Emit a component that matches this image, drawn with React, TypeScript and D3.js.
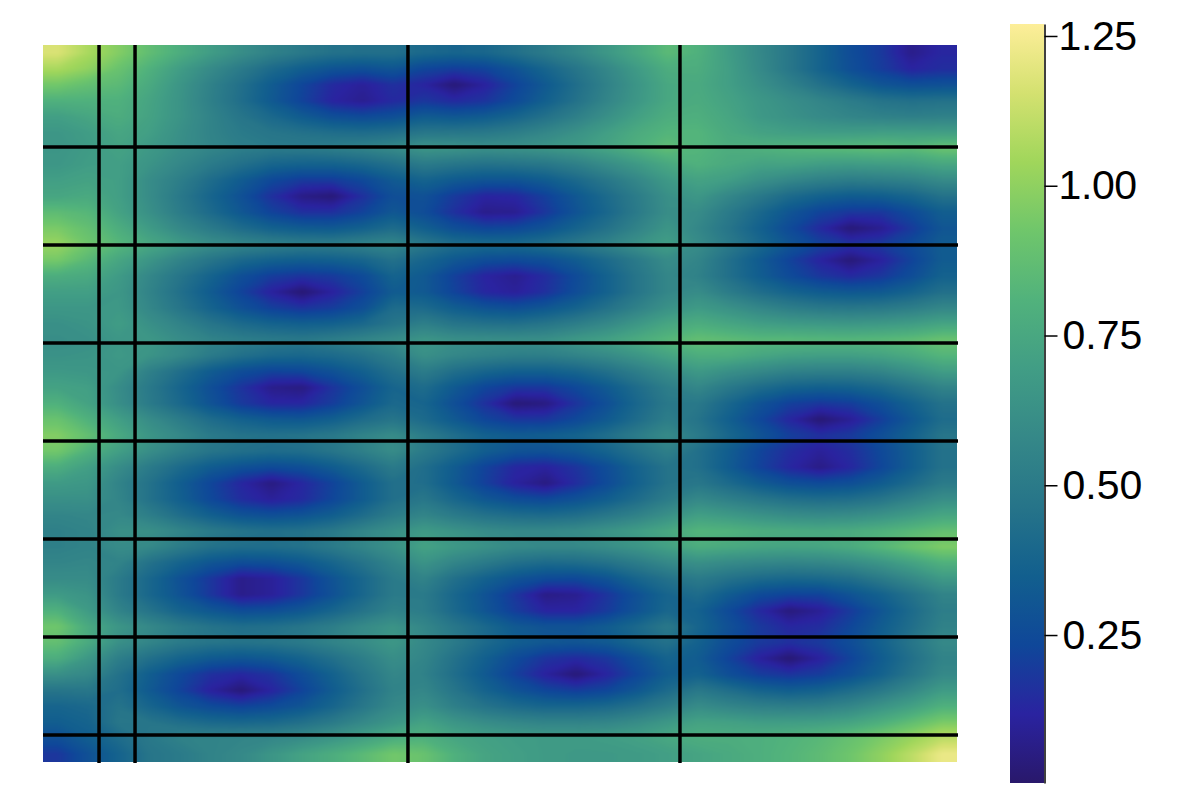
import React, { useEffect, useRef } from "react";
import * as d3 from "d3";

// surface, in hundredths, one row per band from the top
const surfaceRows: number[][] = [
  [117,106,97,87,78,69,61,54,49,45,44,44,40,38,39,44,50,57,66,75,85,80,69,58,48,37,26,19,7,13],
  [106,100,90,80,69,59,50,41,34,29,27,30,23,20,22,29,38,47,57,68,78,78,70,59,48,37,27,20,12,15],
  [93,88,85,76,65,54,44,33,23,14,10,16,12,3,11,22,32,43,54,65,75,76,70,62,54,45,37,30,27,28],
  [80,80,80,73,64,53,43,32,22,12,8,14,18,14,17,25,35,45,56,66,75,77,72,66,61,56,51,46,44,45],
  [70,74,78,72,64,55,47,40,33,27,25,27,33,31,33,38,45,53,62,71,78,79,74,67,63,59,56,54,53,54],
  [66,69,74,70,62,55,50,47,45,43,42,44,48,48,49,52,57,63,70,77,82,82,76,72,70,69,69,70,70,70],
  [65,68,72,67,61,56,52,50,50,52,55,59,65,64,62,63,65,68,73,80,87,82,78,80,82,84,85,87,85,90],
  [66,69,70,64,57,50,44,38,36,36,39,44,50,47,45,46,48,53,60,67,75,80,76,72,72,69,68,69,70,74],
  [70,72,70,60,52,42,33,24,19,19,24,32,37,32,29,29,33,40,48,57,67,72,69,62,57,53,51,52,54,59],
  [74,76,70,60,49,38,28,16,6,3,16,27,28,19,12,13,21,31,41,51,62,66,57,49,41,36,33,34,38,45],
  [86,83,72,62,51,41,31,22,16,16,22,31,26,16,7,8,18,29,39,50,61,60,50,40,30,22,18,18,25,34],
  [95,88,78,68,58,50,42,36,33,32,36,42,35,27,23,24,29,37,45,55,65,57,47,36,25,14,3,8,19,30],
  [102,92,83,75,68,61,57,54,52,52,55,57,49,43,41,41,44,49,55,63,70,60,50,40,30,22,17,19,25,33],
  [94,84,74,65,55,47,40,36,34,35,38,45,38,31,26,25,27,33,41,50,60,56,44,33,22,12,3,11,22,33],
  [78,76,68,57,47,37,27,20,17,19,25,37,32,21,12,8,15,25,36,47,57,54,44,34,25,18,14,18,26,36],
  [70,70,66,55,44,33,22,11,2,11,21,33,32,22,13,10,16,26,36,47,57,60,51,43,37,33,31,32,37,44],
  [66,66,67,57,47,37,28,21,17,20,27,42,41,34,29,27,31,37,45,54,63,68,63,57,52,49,48,49,52,57],
  [62,64,69,62,55,47,41,37,35,36,40,47,53,47,45,44,47,52,58,66,74,78,74,70,68,67,66,67,69,73],
  [61,62,66,66,60,55,52,50,49,52,56,60,65,62,61,61,62,67,71,77,83,88,86,84,84,83,83,84,86,90],
  [63,64,67,64,58,50,44,40,39,41,45,52,62,57,54,52,52,55,59,65,72,78,78,74,71,70,70,72,76,82],
  [67,66,65,53,43,33,26,22,23,28,35,44,51,43,38,35,35,38,44,52,60,67,62,58,54,53,53,56,62,69],
  [72,70,60,49,38,27,17,7,5,17,27,38,42,32,23,18,18,24,32,42,52,57,49,42,37,35,36,40,47,55],
  [80,72,61,50,40,29,19,13,13,20,30,40,38,27,16,3,5,17,27,39,49,49,39,29,21,18,20,27,36,45],
  [90,80,70,60,51,42,36,32,31,35,42,47,41,32,23,18,18,24,32,42,52,46,35,24,13,2,9,20,31,42],
  [97,88,76,65,58,50,46,45,46,49,55,60,51,43,36,33,34,37,43,51,59,50,39,30,21,16,19,27,36,47],
  [93,80,70,61,53,47,44,42,43,47,53,60,50,42,34,29,28,31,37,45,53,44,34,23,15,10,15,24,34,45],
  [78,70,60,50,41,33,28,25,27,33,41,50,43,33,22,13,11,17,26,37,46,44,33,22,13,6,13,23,34,45],
  [68,66,55,45,34,23,13,5,13,22,33,44,43,32,21,11,5,15,25,36,46,48,41,33,27,25,27,33,41,50],
  [62,62,56,45,35,24,15,10,14,23,33,44,48,39,31,26,24,28,34,42,51,58,53,48,44,42,43,47,54,61],
  [56,57,58,52,43,35,29,27,29,34,42,51,56,50,45,42,41,43,48,54,62,70,67,63,60,59,60,63,68,74],
  [53,55,62,62,56,50,46,44,45,49,56,62,68,64,60,58,58,60,64,69,75,82,81,78,77,76,77,80,84,88],
  [53,55,60,58,51,45,43,43,45,50,56,63,72,67,63,59,58,58,61,65,71,78,76,74,73,74,77,83,90,96],
  [56,57,55,45,37,30,26,27,31,38,46,55,64,56,50,44,41,42,45,51,58,62,59,57,56,57,60,65,72,80],
  [60,60,50,39,28,18,7,10,18,29,39,50,55,44,36,29,25,24,29,38,45,50,45,41,39,40,43,50,58,67],
  [68,64,50,39,29,18,7,10,18,28,39,50,50,39,29,18,6,8,17,28,38,42,33,25,22,22,29,36,45,55],
  [80,68,55,46,37,31,26,27,31,38,46,54,51,40,30,20,12,12,19,29,39,36,25,14,4,9,19,30,41,52],
  [92,76,65,58,51,46,43,44,47,52,59,64,57,48,40,32,29,29,33,40,49,38,28,19,13,15,23,33,43,54],
  [88,76,62,56,50,47,46,47,50,55,60,66,58,50,41,34,31,30,32,39,45,36,26,19,16,19,26,36,47,58],
  [78,66,52,44,37,32,30,32,37,44,52,61,56,45,35,25,17,14,18,27,37,33,22,11,2,11,22,33,44,55],
  [62,58,45,34,24,16,13,17,26,36,47,57,54,43,32,21,11,3,12,23,34,36,27,20,17,20,27,36,47,58],
  [47,48,43,32,22,11,3,12,22,33,44,55,57,47,37,29,23,20,23,31,41,49,43,37,34,36,42,49,58,68],
  [38,40,46,38,30,25,22,25,30,38,48,58,62,53,46,41,38,38,40,45,52,60,56,53,52,53,57,64,71,80],
  [34,37,48,47,43,40,39,40,44,50,58,65,72,65,60,57,55,55,56,60,66,72,71,69,69,70,73,79,87,95],
  [27,34,42,49,54,55,56,57,60,65,71,78,80,74,71,69,68,68,69,71,75,78,78,79,81,84,89,95,102,110],
  [18,28,37,47,50,55,58,65,72,78,85,93,90,80,73,70,68,67,67,68,70,73,76,79,82,86,92,100,110,122],
];

const colorStops = [
  "rgb(41, 24, 107)", "rgb(42, 35, 160)", "rgb(15, 71, 153)", "rgb(18, 95, 142)",
  "rgb(38, 116, 137)", "rgb(53, 136, 136)", "rgb(65, 157, 133)", "rgb(81, 178, 124)",
  "rgb(111, 198, 107)", "rgb(160, 214, 91)", "rgb(212, 225, 112)", "rgb(253, 238, 153)",
];
const colorbarTicks = [0.25, 0.5, 0.75, 1.0, 1.25];
const zMin = 0.003;
const zMax = 1.27;

// grid lines as a fraction of the plot's width and height
const verticalLines = [0.0613, 0.1007, 0.3993, 0.6969];
const horizontalLines = [0.1423, 0.2789, 0.4156, 0.5523, 0.689, 0.8257, 0.9623];

const plot = { left: 43, right: 957, top: 45, bottom: 762 };
const bar = { left: 1010, right: 1044, top: 24, bottom: 783 };

const color = d3
  .scaleLinear<string>()
  .domain(colorStops.map((_, i) => zMin + ((zMax - zMin) * i) / (colorStops.length - 1)))
  .range(colorStops)
  .clamp(true);

const App = () => {
  const svgRef = useRef<SVGSVGElement>(null);

  useEffect(() => {
    const svg = d3.select(svgRef.current);
    svg.selectAll("*").remove();

    const rows = surfaceRows.length;
    const cols = surfaceRows[0].length;
    // contours close off at the grid's border, so repeat the edge cells outside the clip
    const pad = 2;
    const x = d3.scaleLinear().domain([pad, cols + pad]).range([plot.left, plot.right]);
    const y = d3.scaleLinear().domain([pad, rows + pad]).range([plot.top, plot.bottom]);
    const fx = d3.scaleLinear().range([plot.left, plot.right]);
    const fy = d3.scaleLinear().range([plot.top, plot.bottom]);

    const paddedValues: number[] = [];
    for (let r = -pad; r < rows + pad; r++) {
      const row = surfaceRows[Math.max(0, Math.min(rows - 1, r))];
      for (let c = -pad; c < cols + pad; c++) {
        paddedValues.push(row[Math.max(0, Math.min(cols - 1, c))] / 100);
      }
    }

    const path = d3.geoPath(
      d3.geoTransform({
        point(px, py) {
          this.stream.point(x(px), y(py));
        },
      })
    );
    const step = 0.01;
    const bands = d3
      .contours()
      .size([cols + pad * 2, rows + pad * 2])
      .thresholds(d3.range(zMin, zMax, step))(paddedValues);

    const defs = svg.append("defs");
    defs
      .append("clipPath")
      .attr("id", "plotClip")
      .append("rect")
      .attr("x", plot.left)
      .attr("y", plot.top)
      .attr("width", plot.right - plot.left)
      .attr("height", plot.bottom - plot.top);
    defs
      .append("filter")
      .attr("id", "soften")
      .attr("filterUnits", "userSpaceOnUse")
      .attr("x", 0)
      .attr("y", 0)
      .attr("width", 1200)
      .attr("height", 800)
      .attr("color-interpolation-filters", "sRGB")
      .append("feGaussianBlur")
      .attr("stdDeviation", "2.5 1");

    const heat = svg.append("g").attr("clip-path", "url(#plotClip)").append("g").attr("filter", "url(#soften)");

    heat
      .append("rect")
      .attr("x", plot.left - 80)
      .attr("y", plot.top - 80)
      .attr("width", plot.right - plot.left + 160)
      .attr("height", plot.bottom - plot.top + 160)
      .attr("fill", color(zMin));

    heat
      .selectAll("path")
      .data(bands)
      .enter()
      .append("path")
      .attr("d", path)
      .attr("fill", (d) => color(d.value + step / 2));

    // black grid lines
    svg
      .append("g")
      .selectAll("line")
      .data(verticalLines)
      .enter()
      .append("line")
      .attr("x1", (d) => fx(d))
      .attr("x2", (d) => fx(d))
      .attr("y1", plot.top)
      .attr("y2", plot.bottom + 1)
      .attr("stroke", "#000")
      .attr("stroke-width", 3.5);

    svg
      .append("g")
      .selectAll("line")
      .data(horizontalLines)
      .enter()
      .append("line")
      .attr("x1", plot.left)
      .attr("x2", plot.right + 1)
      .attr("y1", (d) => fy(d))
      .attr("y2", (d) => fy(d))
      .attr("stroke", "#000")
      .attr("stroke-width", 3.5);

    // colorbar
    const barScale = d3.scaleLinear().domain([zMin, zMax]).range([bar.bottom, bar.top]);
    const gradient = defs
      .append("linearGradient")
      .attr("id", "barGradient")
      .attr("x1", 0)
      .attr("x2", 0)
      .attr("y1", 1)
      .attr("y2", 0);
    gradient
      .selectAll("stop")
      .data(colorStops)
      .enter()
      .append("stop")
      .attr("offset", (_, i) => i / (colorStops.length - 1))
      .attr("stop-color", (d) => d);

    svg
      .append("rect")
      .attr("x", bar.left)
      .attr("y", bar.top)
      .attr("width", bar.right - bar.left)
      .attr("height", bar.bottom - bar.top)
      .attr("fill", "url(#barGradient)");

    const axis = svg
      .append("g")
      .attr("transform", `translate(${bar.right + 0.5},0)`)
      .call(
        d3
          .axisRight(barScale)
          .tickValues(colorbarTicks)
          .tickFormat(d3.format(".2f"))
          .tickSize(13)
          .tickSizeOuter(0)
          .tickPadding(5)
      );
    axis.select(".domain").attr("stroke-width", 1.5);
    axis.selectAll(".tick line").attr("stroke-width", 1.5);
    axis
      .selectAll("text")
      .attr("font-family", "'Liberation Sans', Arial, sans-serif")
      .attr("font-size", 41)
      // the "1." pair sits tighter in the reference
      .attr("dx", (d) => ((d as number) >= 1 ? -4 : 0))
      .attr("letter-spacing", (d) => ((d as number) >= 1 ? "-0.4" : "0"))
      .attr("fill", "#000");
  }, []);

  return (
    <svg
      ref={svgRef}
      width={1200}
      height={800}
      style={{ position: "absolute", left: 0, top: 0, background: "#fff" }}
    />
  );
};

export default App;
